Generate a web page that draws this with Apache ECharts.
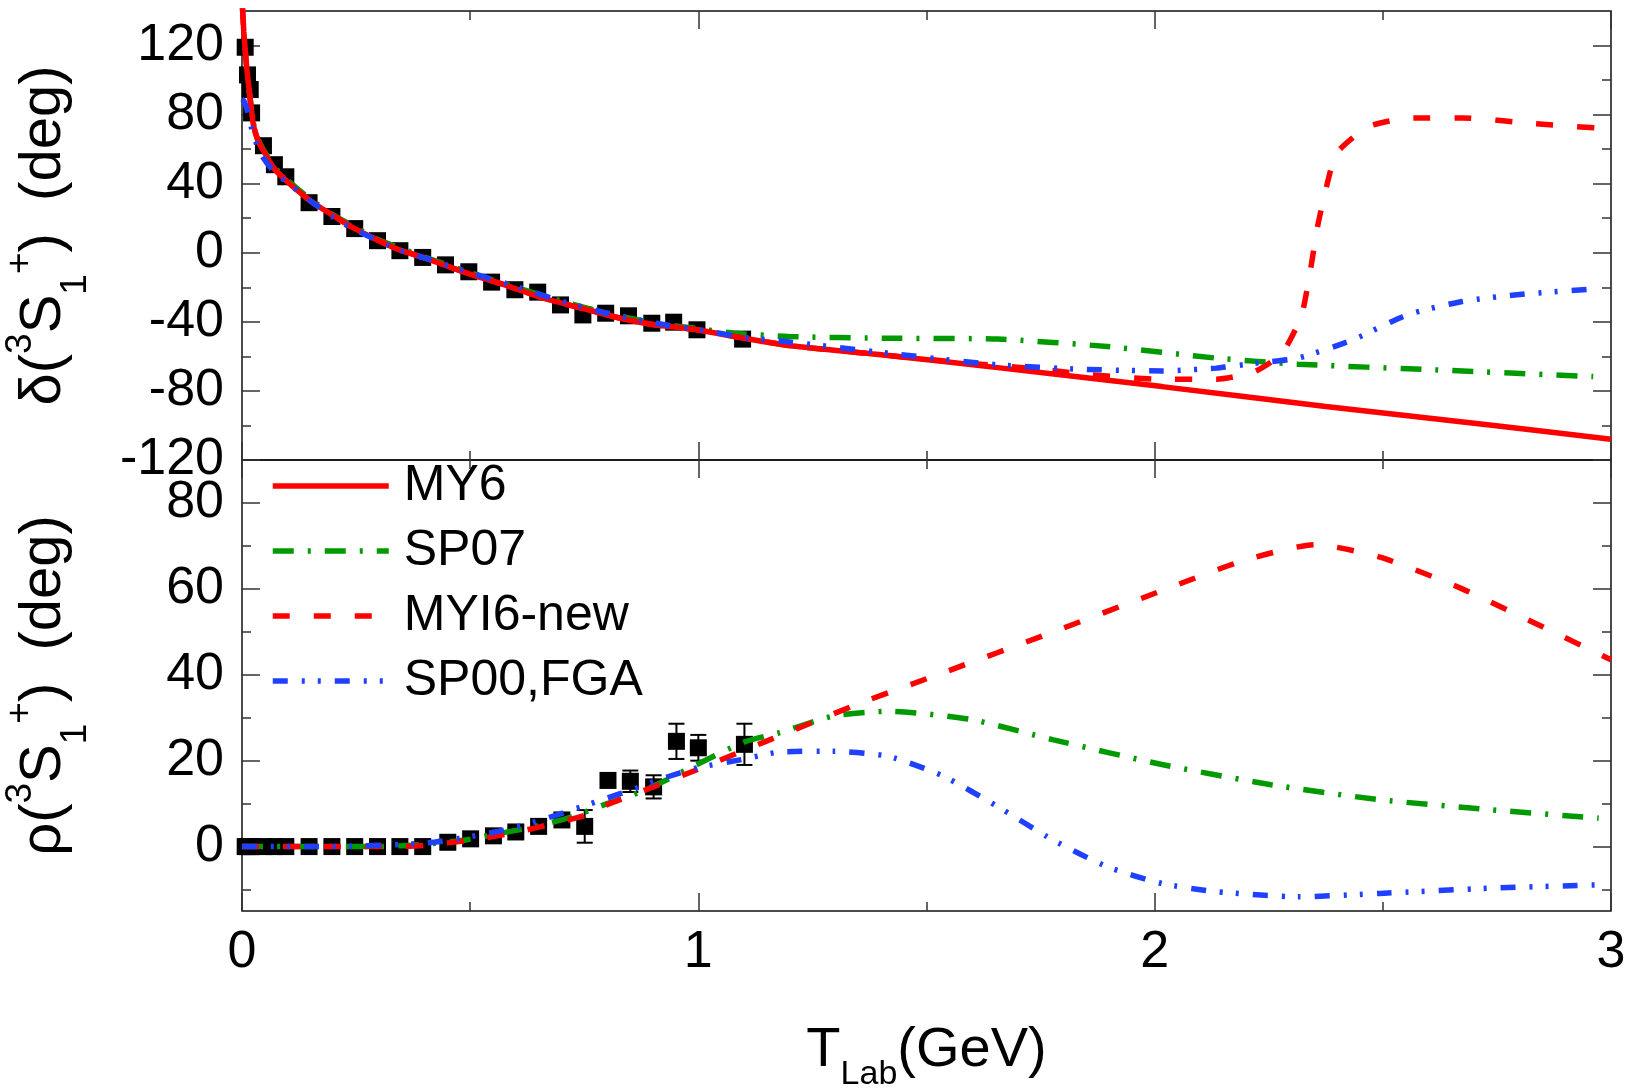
<!DOCTYPE html>
<html><head><meta charset="utf-8">
<script src="https://cdn.jsdelivr.net/npm/echarts@6/dist/echarts.min.js"></script>
<style>html,body{margin:0;padding:0;background:#fff}#c{width:1631px;height:1088px}</style>
</head><body><div id="c"></div>
<script>
// ---------------- data ----------------
const xMajorTicks = [0, 1, 2, 3];
const deltaTicks = [-120, -80, -40, 0, 40, 80, 120];
const deltaMinor = [-100, -60, -20, 20, 60, 100];
const rhoTicks = [0, 20, 40, 60, 80];
const rhoMinor = [-10, 10, 30, 50, 70];

// experimental points, upper panel (delta)
const expDeltaT = [0.007, 0.012, 0.018, 0.021, 0.047, 0.071, 0.096, 0.147, 0.197, 0.247, 0.297, 0.346, 0.396, 0.446, 0.497, 0.547, 0.598, 0.648, 0.698, 0.747, 0.797, 0.847, 0.898, 0.946, 0.997, 1.097];
const expDelta  = [119, 103, 94.5, 81, 62, 51, 44, 29, 21, 14, 7, 1.2, -2.7, -7, -11, -17, -21.4, -22.8, -30.2, -36, -35, -36.5, -40.8, -40.2, -44.6, -50];

// experimental points, lower panel (rho)
const expRhoT   = [0.007, 0.012, 0.018, 0.021, 0.047, 0.071, 0.096, 0.147, 0.197, 0.247, 0.297, 0.346, 0.396, 0.451, 0.501, 0.551, 0.600, 0.650, 0.701, 0.751, 0.802, 0.851, 0.902, 0.952, 1.000, 1.101];
const expRho    = [0, 0, 0, 0, 0, 0, 0, 0, 0, 0, 0, 0, 0, 1.0, 1.8, 2.5, 3.4, 4.7, 6.2, 4.7, 15.4, 15.2, 13.9, 24.5, 23.0, 23.8];
const expRhoErr = [0, 0, 0, 0, 0, 0, 0, 0, 0, 0, 0, 0, 0, 0, 0, 0, 0, 0, 0, 3.8, 0, 2.5, 2.7, 4.1, 3.0, 4.8];

// MY6 (upper panel)
const my6DeltaT = [0.001, 0.004, 0.01, 0.018, 0.025, 0.035, 0.044, 0.06, 0.073, 0.1, 0.124, 0.15, 0.197, 0.24, 0.3, 0.342, 0.4, 0.493, 0.58, 0.66, 0.75, 0.829, 0.9, 0.997, 1.1, 1.206, 1.4, 1.656, 2.016, 2.375, 2.734, 3.0];
const my6Delta  = [142, 128, 108, 89, 74, 65, 60.5, 53, 48, 41, 35.5, 30, 22, 15, 7, 2, -3, -11.8, -19, -26.3, -32.5, -37.9, -41.5, -44.6, -49.5, -54, -59, -66.5, -77.5, -89, -99.7, -108];

// SP07 (upper panel)
const sp07DeltaT = [0.015, 0.025, 0.035, 0.044, 0.06, 0.073, 0.1, 0.15, 0.2, 0.3, 0.4, 0.5, 0.6, 0.7, 0.8, 0.9, 1.0, 1.08, 1.198, 1.417, 1.656, 1.896, 2.135, 2.314, 2.614, 2.961];
const sp07Delta  = [95, 75, 66, 61, 54, 49, 42, 31, 22, 7.5, -2.5, -11.5, -20, -28, -35, -40.5, -44, -46.6, -48.5, -49.5, -50, -54.3, -61, -64.5, -67.8, -71.7];

// MYI6-new (upper panel)
const myi6DeltaT = [0.001, 0.004, 0.01, 0.018, 0.025, 0.035, 0.044, 0.06, 0.073, 0.1, 0.124, 0.15, 0.197, 0.24, 0.3, 0.342, 0.4, 0.493, 0.58, 0.66, 0.75, 0.829, 0.9, 0.997, 1.1, 1.206, 1.4, 1.572, 1.765, 1.86, 2.016, 2.135, 2.219, 2.279, 2.321, 2.339, 2.357, 2.375, 2.399, 2.47, 2.566, 2.674, 2.83, 3.0];
const myi6Delta  = [142, 128, 108, 89, 74, 65, 60.5, 53, 48, 41, 35.5, 30, 22, 15, 7, 2, -3, -11.8, -19, -26.3, -32.5, -37.9, -41.5, -44.6, -49.5, -54, -59, -63.5, -67.8, -70.7, -73.2, -73.2, -68.8, -58.2, -36.9, -13.7, 15.2, 36.5, 57.8, 73.2, 78.1, 78.1, 74.8, 71.7];

// SP00,FGA (upper panel)
const sp00DeltaT = [0.0, 0.004, 0.011, 0.025, 0.044, 0.07, 0.11, 0.15, 0.197, 0.25, 0.344, 0.4, 0.5, 0.6, 0.7, 0.8, 0.9, 1.0, 1.1, 1.177, 1.417, 1.656, 1.836, 2.016, 2.135, 2.219, 2.314, 2.434, 2.554, 2.674, 2.794, 2.961];
const sp00Delta  = [89, 88, 83, 68, 56, 47, 38.4, 30, 21, 13, 1.7, -3, -11.5, -19.5, -28, -35, -40.5, -44.5, -49, -51, -58.2, -64.9, -67.4, -68.4, -66.8, -64, -61, -50.4, -35.9, -28.2, -24.3, -21];

// SP07 (lower panel)
const sp07RhoT = [0.0, 0.1, 0.2, 0.3, 0.35, 0.4, 0.493, 0.55, 0.627, 0.7, 0.745, 0.8, 0.87, 0.93, 0.997, 1.097, 1.177, 1.297, 1.417, 1.597, 1.776, 2.016, 2.255, 2.494, 2.734, 2.973];
const sp07Rho  = [0, 0, 0, 0, 0.2, 0.5, 1.6, 2.8, 4.3, 6.2, 7.8, 10, 12.6, 15.5, 19.1, 24.2, 26.5, 30.4, 31.5, 29.6, 24.9, 19.1, 14.4, 10.9, 8.6, 6.6];

// MYI6-new (lower panel)
const myi6RhoT = [0.0, 0.2, 0.35, 0.4, 0.5, 0.6, 0.7, 0.75, 0.799, 0.87, 0.997, 1.148, 1.213, 1.357, 1.537, 1.776, 2.016, 2.195, 2.351, 2.494, 2.674, 2.853, 3.0];
const myi6Rho  = [0, 0, 0, 0.3, 1.5, 3.3, 5.8, 7.2, 9.7, 12.6, 17.9, 24.5, 27.3, 33.5, 40.5, 49.9, 59.6, 66.6, 70.3, 67.4, 60, 51, 43.5];

// SP00,FGA (lower panel)
const sp00RhoT = [0.0, 0.2, 0.4, 0.5, 0.577, 0.65, 0.745, 0.8, 0.854, 0.92, 0.997, 1.097, 1.177, 1.297, 1.417, 1.537, 1.656, 1.776, 1.896, 2.016, 2.135, 2.315, 2.494, 2.734, 2.973];
const sp00Rho  = [0, 0, 0.8, 2.3, 3.9, 6, 9.3, 11.3, 13.2, 15.8, 18.3, 20.3, 22, 22.2, 21, 16.4, 9.3, 1.6, -4.7, -8.6, -10.5, -11.7, -10.9, -9.7, -8.9];

const seriesNames = ['MY6', 'SP07', 'MYI6-new', 'SP00,FGA'];

// ---------------- chart ----------------
const zip = (a, b) => a.map((v, i) => [v, b[i]]);
const FONT = "'Liberation Sans', Arial, Helvetica, sans-serif";
const RED = '#ff0000', GREEN = '#009a00', BLUE = '#1f40ff';
const LW = 5.5;
const styles = {
  'MY6':      {color: RED,   type: 'solid', z: 4},
  'SP07':     {color: GREEN, type: [21, 14, 3, 14], z: 3},
  'MYI6-new': {color: RED,   type: [17, 24], z: 5},
  'SP00,FGA': {color: BLUE,  type: [15, 14, 3, 13, 3, 14], z: 6}
};

function lineSeries(name, xi, yi, data) {
  const s = styles[name];
  return {
    name, type: 'line', xAxisIndex: xi, yAxisIndex: yi, data,
    showSymbol: false, symbol: 'none', smooth: 0.2, z: s.z,
    lineStyle: {color: s.color, width: LW, type: s.type, cap: 'butt'},
    itemStyle: {color: s.color},
    emphasis: {disabled: true}
  };
}

const tickCol = '#333';
function xAxisDef(gi, pos, showLabels) {
  return {
    type: 'value', gridIndex: gi, position: pos, min: 0, max: 3, interval: 1,
    axisLine: {show: false, onZero: false},
    splitLine: {show: false},
    axisTick: {show: true, inside: true, length: 18, lineStyle: {color: tickCol, width: 1.5}},
    minorTick: {show: true, splitNumber: 2, length: 9, lineStyle: {color: tickCol, width: 1.5}},
    axisLabel: {show: showLabels, fontSize: 52, color: '#000', fontFamily: FONT, margin: 16,
                customValues: xMajorTicks}
  };
}
function yAxisDef(gi, pos, min, max, values, len, showLabels) {
  return {
    type: 'value', gridIndex: gi, position: pos, min, max,
    axisLine: {show: false, onZero: false},
    splitLine: {show: false},
    axisTick: {show: true, inside: true, length: len, customValues: values, lineStyle: {color: tickCol, width: 1.5}},
    axisLabel: {show: showLabels, fontSize: 52, color: '#000', fontFamily: FONT, margin: 18,
                customValues: values}
  };
}

const titleRich = {
  m:   {fontSize: 58, fontFamily: FONT, color: '#000', lineHeight: 100},
  sup: {fontSize: 37, fontFamily: FONT, color: '#000', lineHeight: 37, verticalAlign: 'top', padding: [8, 0, 0, 0]},
  sub: {fontSize: 37, fontFamily: FONT, color: '#000', lineHeight: 37, verticalAlign: 'bottom'}
};

const yAxes = [
  Object.assign(yAxisDef(0, 'left', -120, 140, deltaTicks, 18, true), {
    name: '{m|δ(}{sup|3}{m|S}{sub|1}{sup|+}{m|)  (deg)}',
    nameLocation: 'middle', nameRotate: 90, nameGap: 148, nameMoveOverlap: false,
    nameTextStyle: {rich: titleRich}
  }),
  yAxisDef(0, 'left', -120, 140, deltaMinor, 9, false),
  yAxisDef(0, 'right', -120, 140, deltaTicks, 18, false),
  yAxisDef(0, 'right', -120, 140, deltaMinor, 9, false),
  Object.assign(yAxisDef(1, 'left', -15, 90, rhoTicks, 18, true), {
    name: '{m|ρ(}{sup|3}{m|S}{sub|1}{sup|+}{m|)  (deg)}',
    nameLocation: 'middle', nameRotate: 90, nameGap: 148, nameMoveOverlap: false,
    nameTextStyle: {rich: titleRich}
  }),
  yAxisDef(1, 'left', -15, 90, rhoMinor, 9, false),
  yAxisDef(1, 'right', -15, 90, rhoTicks, 18, false),
  yAxisDef(1, 'right', -15, 90, rhoMinor, 9, false)
];

const xAxes = [
  xAxisDef(0, 'bottom', false),
  xAxisDef(0, 'top', false),
  Object.assign(xAxisDef(1, 'bottom', true), {
    name: '{m|T}{sub|Lab}{m|(GeV)}',
    nameLocation: 'middle', nameGap: 99, nameMoveOverlap: false,
    nameTextStyle: {rich: {
      m:   {fontSize: 56, fontFamily: FONT, color: '#000', lineHeight: 82},
      sub: {fontSize: 34, fontFamily: FONT, color: '#000', lineHeight: 34, verticalAlign: 'bottom'}
    }}
  }),
  xAxisDef(1, 'top', false)
];

const errData = expRhoT.map((t, i) => [t, expRho[i], expRhoErr[i]]).filter(d => d[2] > 0);

const series = [
  {type: 'scatter', xAxisIndex: 0, yAxisIndex: 0, data: zip(expDeltaT, expDelta),
   symbol: 'rect', symbolSize: 17, itemStyle: {color: '#000', opacity: 1}, z: 1, silent: true},
  {type: 'scatter', xAxisIndex: 2, yAxisIndex: 4, data: zip(expRhoT, expRho),
   symbol: 'rect', symbolSize: 17, itemStyle: {color: '#000', opacity: 1}, z: 1, silent: true},
  {type: 'custom', xAxisIndex: 2, yAxisIndex: 4, data: errData, z: 1, silent: true,
   renderItem: function (params, api) {
     const x = api.value(0), y = api.value(1), e = api.value(2);
     const p1 = api.coord([x, y + e]), p2 = api.coord([x, y - e]);
     const hw = 8, st = {stroke: '#000', lineWidth: 2};
     return {type: 'group', children: [
       {type: 'line', shape: {x1: p1[0], y1: p1[1], x2: p2[0], y2: p2[1]}, style: st},
       {type: 'line', shape: {x1: p1[0] - hw, y1: p1[1], x2: p1[0] + hw, y2: p1[1]}, style: st},
       {type: 'line', shape: {x1: p2[0] - hw, y1: p2[1], x2: p2[0] + hw, y2: p2[1]}, style: st}
     ]};
   }},
  lineSeries('SP07', 0, 0, zip(sp07DeltaT, sp07Delta)),
  lineSeries('MY6', 0, 0, zip(my6DeltaT, my6Delta)),
  lineSeries('MYI6-new', 0, 0, zip(myi6DeltaT, myi6Delta)),
  lineSeries('SP00,FGA', 0, 0, zip(sp00DeltaT, sp00Delta)),
  lineSeries('SP07', 2, 4, zip(sp07RhoT, sp07Rho)),
  lineSeries('MYI6-new', 2, 4, zip(myi6RhoT, myi6Rho)),
  lineSeries('SP00,FGA', 2, 4, zip(sp00RhoT, sp00Rho))
];

const chart = echarts.init(document.getElementById('c'), null, {renderer: 'canvas'});
chart.setOption({
  animation: false,
  backgroundColor: '#fff',
  grid: [
    {left: 242, right: 20, top: 11, height: 449, show: true, borderColor: '#111', borderWidth: 1.5, backgroundColor: 'transparent', containLabel: false, outerBoundsMode: 'none'},
    {left: 242, right: 20, top: 460, height: 451, show: true, borderColor: '#111', borderWidth: 1.5, backgroundColor: 'transparent', containLabel: false, outerBoundsMode: 'none'}
  ],
  xAxis: xAxes,
  yAxis: yAxes,
  legend: {
    data: seriesNames,
    orient: 'vertical', left: 270, top: 460, padding: 0,
    itemWidth: 116, itemHeight: 14, itemGap: 13,
    itemStyle: {opacity: 0},
    lineStyle: {width: 5.5},
    textStyle: {fontSize: 50, fontFamily: FONT, color: '#000', lineHeight: 52, padding: [0, 0, 0, 10]},
    selectedMode: false
  },
  series
});
</script>
</body></html>
